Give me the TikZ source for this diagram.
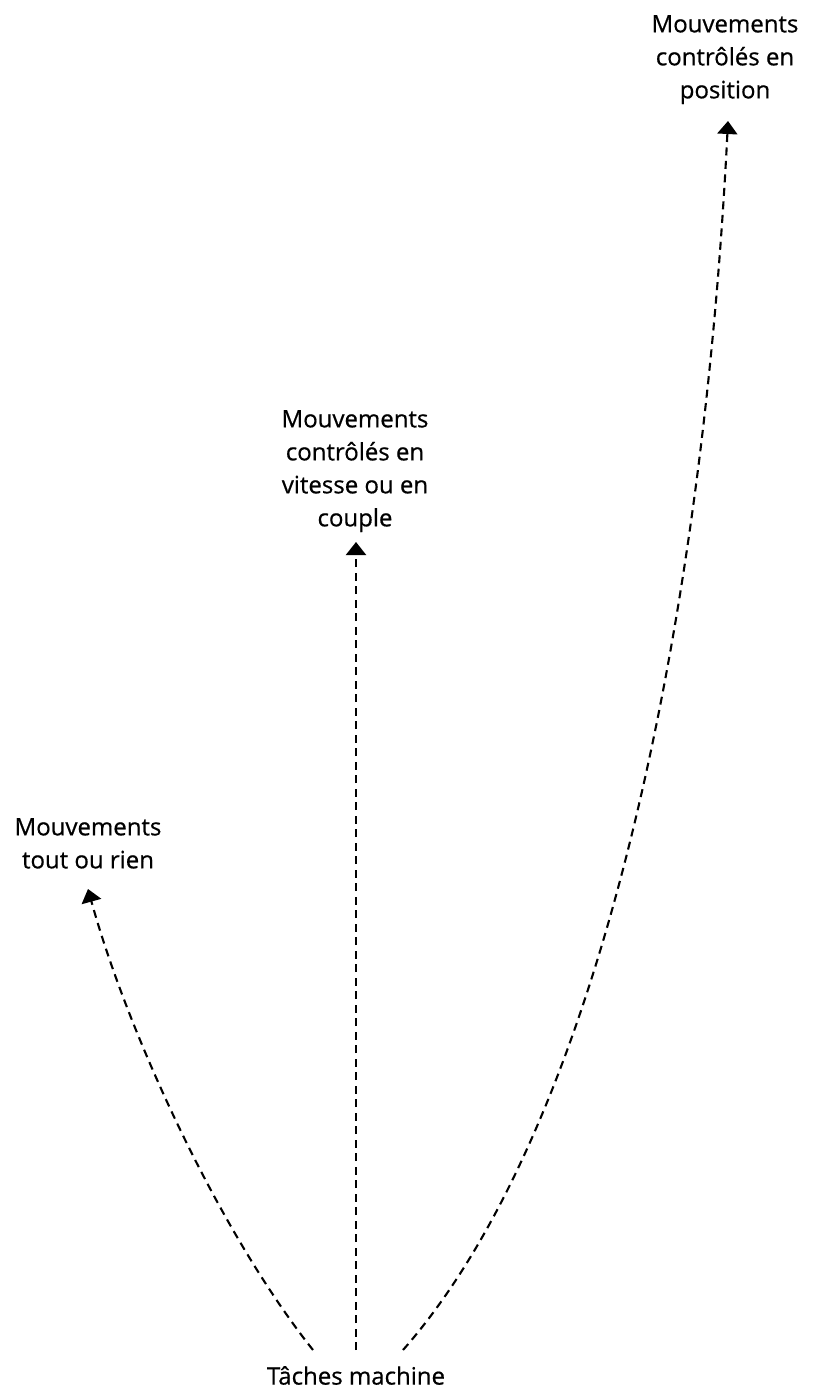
\documentclass[tikz,border=0pt]{standalone}
\usepackage{fontspec}
\setmainfont{Open Sans}
\newfontfamily\lblfont[FakeBold=0.6]{Open Sans}
\usetikzlibrary{arrows.meta}
\begin{document}
\begin{tikzpicture}[x=1pt,y=-1pt,
  lbl/.style={inner sep=0pt, align=center, anchor=north, font=\lblfont\fontsize{24}{33}\selectfont},
  conn/.style={line width=2.1pt, dash pattern=on 8pt off 5.5pt, -{Triangle[width=20pt,length=13pt]}}]
\useasboundingbox (0,0) rectangle (817,1389);
\node[lbl] (pos) at (725,15) {Mouvements\\contrôlés en\\position};
\node[lbl] (vit) at (355,410) {Mouvements\\contrôlés en\\vitesse ou en\\couple};
\node[lbl] (tor) at (88,818) {Mouvements\\tout ou rien};
\node[lbl] (tm) at (356,1366) {Tâches machine};
\coordinate (s1) at (313,1350);
\coordinate (s2) at (356,1350);
\coordinate (s3) at (403,1350);
\coordinate (e1) at (88,889);
\coordinate (e2) at (356,542);
\coordinate (e3) at (728,121);
\draw[conn] (s1) .. controls (220,1233) and (128,1034) .. (e1);
\draw[conn] (s2) -- (e2);
\draw[conn] (s3) .. controls (601,1125) and (703,622) .. (e3);
\end{tikzpicture}
\end{document}
